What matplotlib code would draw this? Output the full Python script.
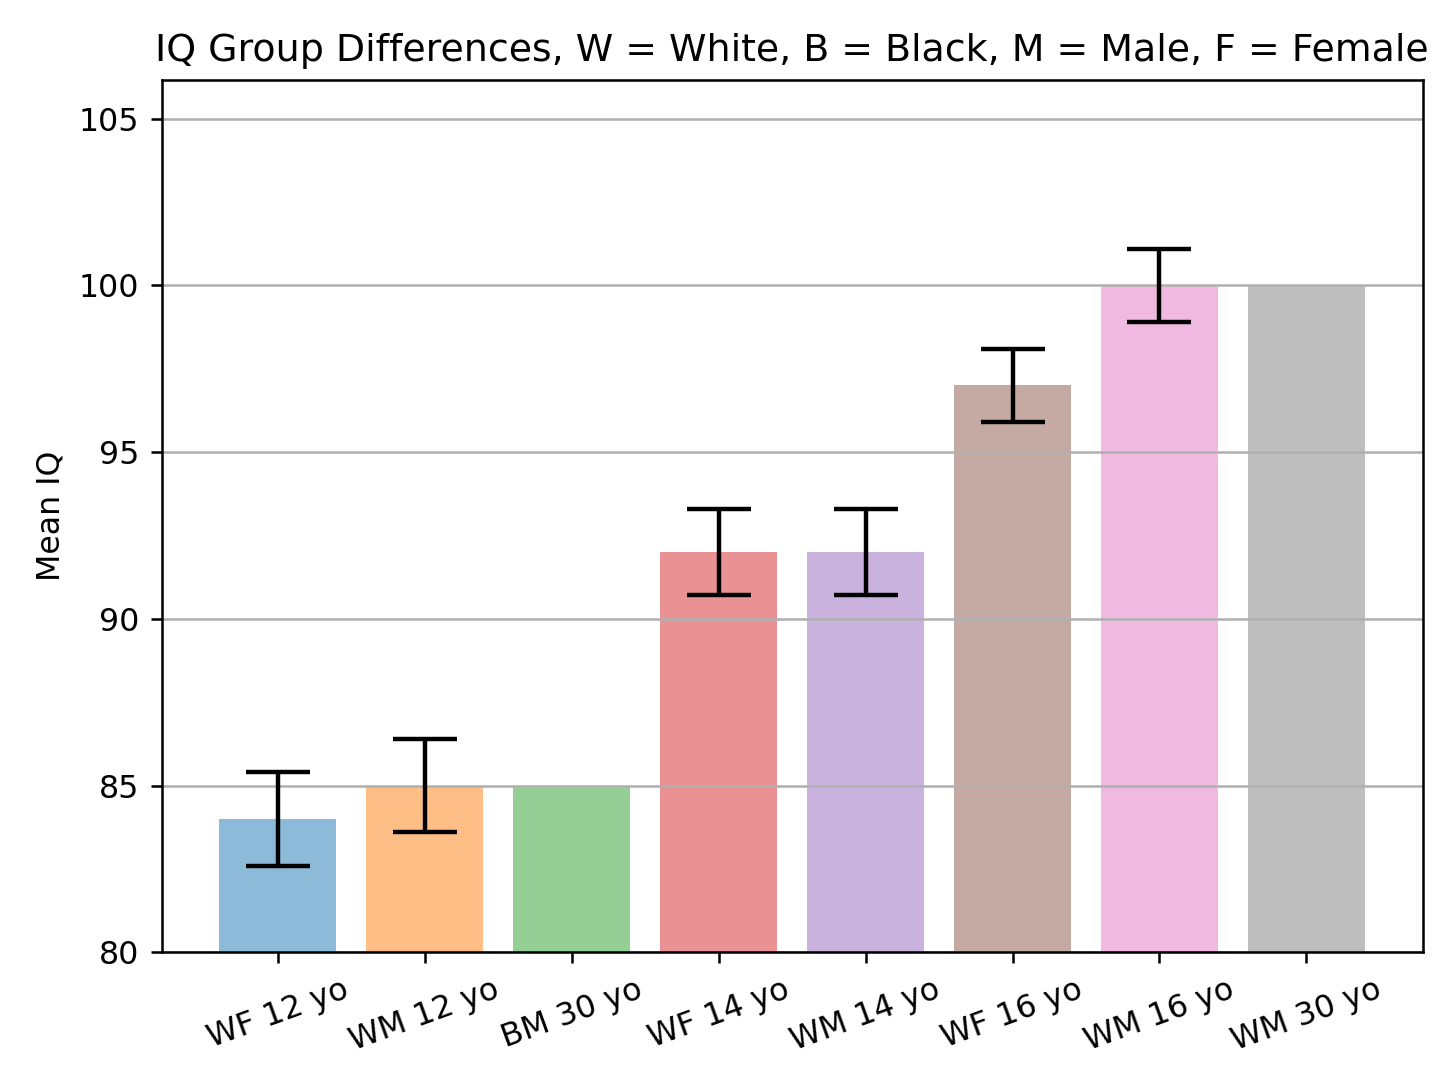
import matplotlib.pyplot as plt
import numpy as np

groups = ['WF 12 yo', 'WM 12 yo', 'BM 30 yo', 'WF 14 yo', 'WM 14 yo',
          'WF 16 yo', 'WM 16 yo', 'WM 30 yo']
mean_iq = [84, 85, 85, 92, 92, 97, 100, 100]
errors = [1.4, 1.4, 0, 1.3, 1.3, 1.1, 1.1, 0]
colors = ['tab:blue', 'tab:orange', 'tab:green', 'tab:red', 'tab:purple',
          'tab:brown', 'tab:pink', 'tab:gray']

fig = plt.figure(figsize=(6.4, 4.8), dpi=227.5)
ax = fig.add_axes([0.111, 0.128, 0.866, 0.799])
x = np.arange(len(groups))
ax.bar(x, mean_iq, color=colors, alpha=0.5)
# only draw bars that have an error
for i in range(len(groups)):
    if errors[i] > 0:
        ax.errorbar(x[i], mean_iq[i], yerr=errors[i], color='black',
                    capsize=10, elinewidth=1.4, capthick=1.4)
# grid sits on top of the bars (default axisbelow='line')
ax.yaxis.grid(True)
ax.set_ylim(80, 106.17)
ax.set_xticks(x)
ax.set_xticklabels(groups, rotation=20)
ax.set_ylabel('Mean IQ')
ax.set_title('IQ Group Differences, W = White, B = Black, M = Male, F = Female')

plt.savefig('out.png')
